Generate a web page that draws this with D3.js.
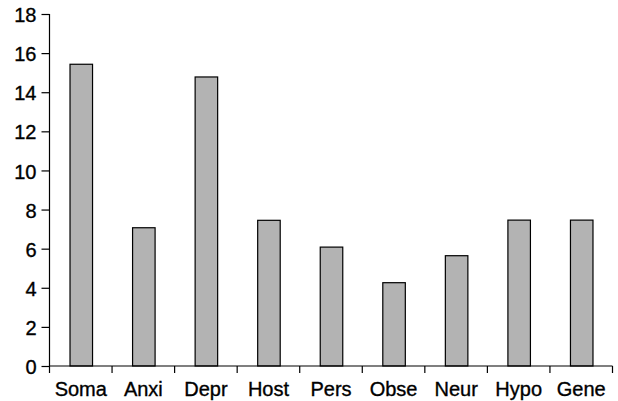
<!DOCTYPE html>
<html><head><meta charset="utf-8">
<script src="https://cdn.jsdelivr.net/npm/d3@7"></script>
<style>body{margin:0;background:#fff}svg{display:block}</style>
</head><body>
<svg id="c" width="618" height="401"></svg>
<script>
const categories = ["Soma","Anxi","Depr","Host","Pers","Obse","Neur","Hypo","Gene"];
const values = [15.43, 7.07, 14.78, 7.45, 6.08, 4.26, 5.64, 7.46, 7.46];
const yTicks = [0,2,4,6,8,10,12,14,16,18];

const svg = d3.select("#c");
const L = 49.5, R = 612.5, T = 14, B = 366;
const x = d3.scaleBand().domain(categories).range([L, R]).paddingInner(0).paddingOuter(0);
const y = d3.scaleLinear().domain([0,18]).range([B, T]);
const font = "'Liberation Sans', Arial, sans-serif";

// bars
const bw = x.bandwidth()*0.36;
svg.append("g").selectAll("rect").data(values).join("rect")
  .attr("x", (d,i)=> x(categories[i]) + x.bandwidth()/2 - bw/2 + 0.5)
  .attr("width", bw)
  .attr("y", d=>y(d))
  .attr("height", d=>B - y(d))
  .attr("fill", "#b3b3b3")
  .attr("stroke", "#000")
  .attr("stroke-width", 1.2);

// y axis
const gy = svg.append("g").attr("transform", `translate(${L},0)`)
  .call(d3.axisLeft(y).tickValues(yTicks).tickSize(8).tickPadding(5).tickFormat(d3.format("d")));
gy.select(".domain").attr("d", `M0,${y(18)}V${B}`).attr("stroke","#000").attr("stroke-width",1.2);
gy.selectAll(".tick line").attr("stroke","#000").attr("stroke-width",1.2);
gy.selectAll(".tick text").attr("font-family", font).attr("font-size", 20).attr("fill","#000")
  .attr("stroke","#000").attr("stroke-width",0.35)
  .attr("dy", "0.38em");

// x axis
const gx = svg.append("g").attr("transform", `translate(0,${B})`)
  .call(d3.axisBottom(x).tickSize(0).tickPadding(16));
gx.select(".domain").attr("d", `M${L},0H${R}`).attr("stroke","#000").attr("stroke-width",1.2);
gx.selectAll(".tick text").attr("font-family", font).attr("font-size", 20).attr("fill","#000")
  .attr("stroke","#000").attr("stroke-width",0.35);
// boundary ticks
const bounds = categories.map(c=>x(c)).concat([R]);
gx.selectAll("line.bt").data(bounds).join("line").attr("class","bt")
  .attr("x1", d=>d).attr("x2", d=>d).attr("y1",0).attr("y2",7)
  .attr("stroke","#000").attr("stroke-width",1.2);
</script>
</body></html>
